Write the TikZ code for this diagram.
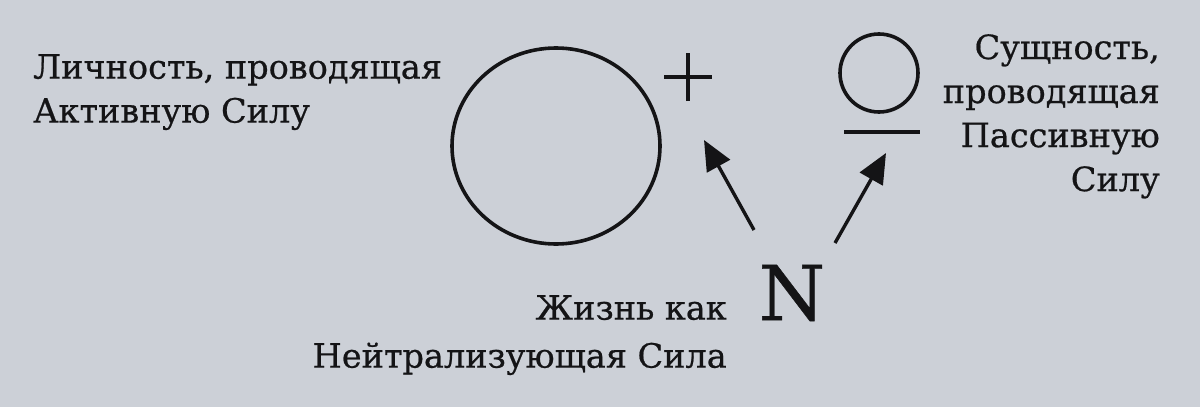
\documentclass[tikz,border=0pt]{standalone}
\usepackage{fontspec}
\setmainfont{DejaVu Serif}
\newfontfamily\lblfont{DejaVu Serif}[FakeBold=0.6]
\usetikzlibrary{arrows.meta,shapes.geometric}
\definecolor{paper}{RGB}{204,208,215}
\definecolor{ink}{RGB}{20,20,22}
\tikzset{
  lbl/.style={inner sep=0pt, text=ink, font=\lblfont\fontsize{33.5}{44}\selectfont},
  ring/.style={draw=ink, line width=3.6pt},
  stroke/.style={draw=ink, line width=3.4pt},
  arr/.style={draw=ink, line width=3.4pt, -{Triangle[length=30pt,width=26pt]}},
}
\begin{document}
\begin{tikzpicture}[x=1pt,y=-1pt]
\fill[paper] (0,0) rectangle (1200,407);
\useasboundingbox (0,0) rectangle (1200,407);
% labels
\node[lbl, anchor=north west, align=left] (active) at (33,54) {Личность, проводящая\\Активную Силу};
\node[lbl, anchor=north east, align=right] (passive) at (1160,34) {Сущность,\\проводящая\\Пассивную\\Силу};
\node[lbl, anchor=north east, align=right, font=\lblfont\fontsize{33.5}{48}\selectfont] (neutral) at (727,295) {Жизнь как\\Нейтрализующая Сила};
% shapes
\node[ring, ellipse, minimum width=208pt, minimum height=196pt, inner sep=0pt] (big) at (556,146) {};
\node[ring, circle, minimum size=78pt, inner sep=0pt] (small) at (879,73) {};
\coordinate (plus) at (688,77);
\draw[stroke] ([xshift=-24pt]plus) -- ([xshift=24pt]plus);
\draw[stroke] ([yshift=-24pt]plus) -- ([yshift=24pt]plus);
\coordinate (minusL) at (844,132);
\coordinate (minusR) at (920,132);
\draw[stroke] (minusL) -- (minusR);
\node[inner sep=0pt, text=ink, font=\lblfont\fontsize{76}{76}\selectfont] (N) at (792,293) {N};
% arrows
\coordinate (a1s) at (754,230);
\coordinate (a1e) at (704,140);
\coordinate (a2s) at (835,243);
\coordinate (a2e) at (886,153);
\draw[arr] (a1s) -- (a1e);
\draw[arr] (a2s) -- (a2e);
\end{tikzpicture}
\end{document}
